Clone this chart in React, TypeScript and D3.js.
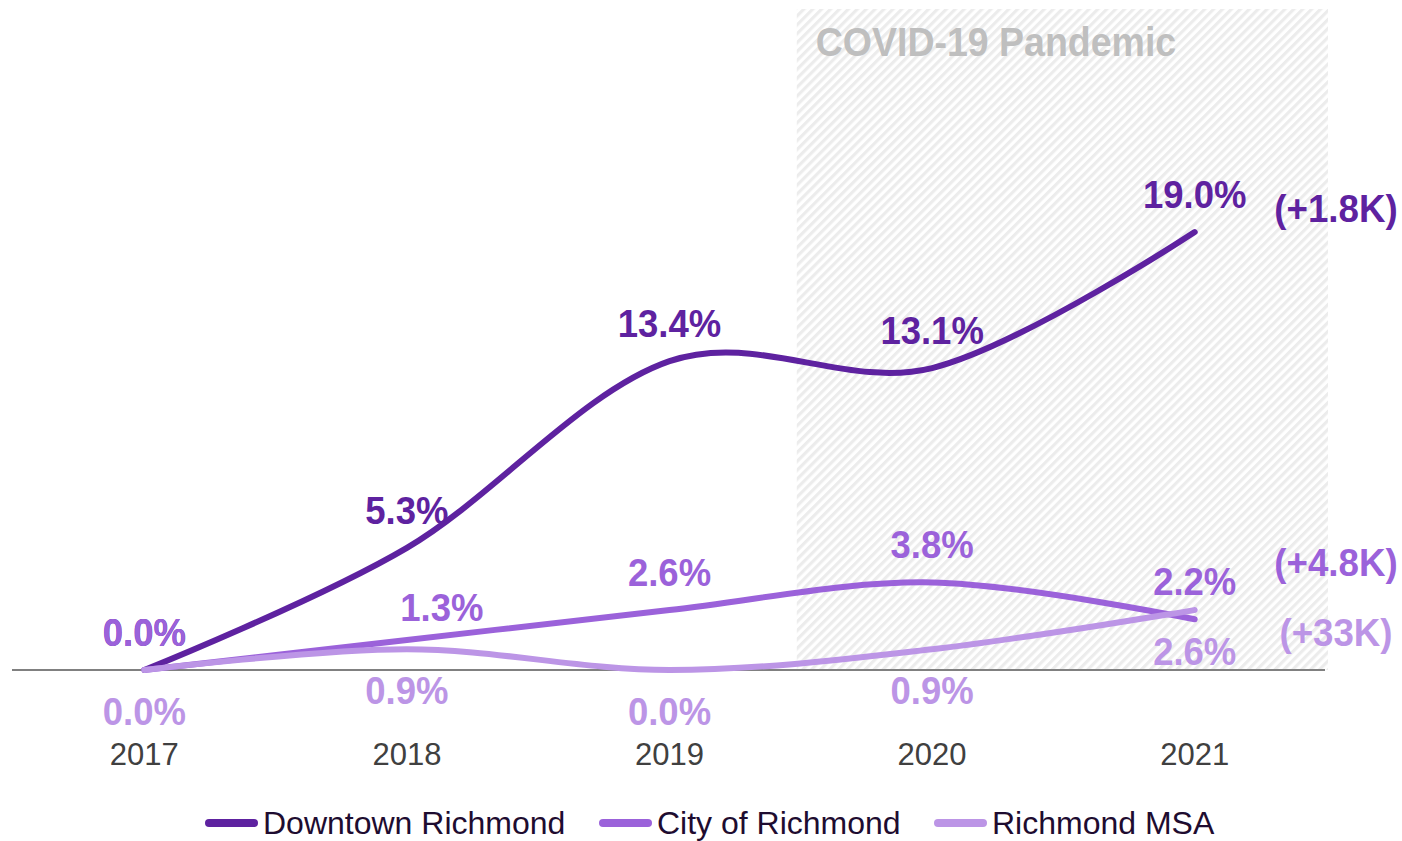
import React from "react";
import * as d3 from "d3";

const years = ["2017", "2018", "2019", "2020", "2021"];
const downtown = [0.0, 5.3, 13.4, 13.1, 19.0];
const city = [0.0, 1.3, 2.6, 3.8, 2.2];
const msa = [0.0, 0.9, 0.0, 0.9, 2.6];
const seriesNames = ["Downtown Richmond", "City of Richmond", "Richmond MSA"];
const seriesColors = ["#5e22a0", "#9b62da", "#bc95e6"];
const changeLabels = ["(+1.8K)", "(+4.8K)", "(+33K)"];
const labelSides = ["above", "above", "below"];
const pandemicLabel = "COVID-19 Pandemic";
const pandemicStart = "2020";

const W = 1402;
const H = 841;
const FONT = "'Liberation Sans', Arial, Helvetica, sans-serif";
const SY = 1.08;

function BoldLabel(props: {
  x: number;
  y: number;
  size: number;
  fill: string;
  anchor?: string;
  children: React.ReactNode;
}) {
  const { x, y, size, fill, anchor, children } = props;
  return (
    <text
      transform={`translate(${x},${y}) scale(1,${SY})`}
      textAnchor={anchor || "middle"}
      fontSize={size}
      fontWeight="bold"
      fill={fill}
    >
      {children}
    </text>
  );
}

export default function App() {
  const x = d3.scaleBand<string>().domain(years).range([13, 1326]).padding(0);
  const bw = x.bandwidth();
  const cx = (yr: string) => (x(yr) as number) + bw / 2;
  const y = d3.scaleLinear().domain([0, 20]).range([670, 670 - 20 * 23.05]);

  const series = [downtown, city, msa];
  const line = d3
    .line<number>()
    .x((_, i) => cx(years[i]))
    .y((d) => y(d))
    .curve(d3.curveCatmullRom.alpha(0));

  const hatchX0 = (x(pandemicStart) as number) - 4;
  const hatchX1 = 1328;
  const hatchY0 = 9;
  const axisY = y(0);

  const fmt = (v: number) => v.toFixed(1) + "%";

  const nudge = (si: number, i: number) =>
    si === 1 && i === 1 ? { dx: 35, dy: 5 } : { dx: 0, dy: 0 };

  const legendItems = [
    { x0: 205, x1: 258, tx: 263 },
    { x0: 599, x1: 652, tx: 657 },
    { x0: 934, x1: 987, tx: 992 },
  ];

  return (
    <svg
      width={W}
      height={H}
      style={{ position: "absolute", left: 0, top: 0, background: "#fff" }}
      fontFamily={FONT}
    >
      <defs>
        <pattern
          id="hatch"
          patternUnits="userSpaceOnUse"
          width={6.3}
          height={10}
          patternTransform="rotate(45)"
        >
          <rect x={0} y={0} width={6.3} height={10} fill="#ffffff" />
          <rect x={0} y={0} width={3.1} height={10} fill="#ececec" />
        </pattern>
      </defs>

      <rect
        x={hatchX0}
        y={hatchY0}
        width={hatchX1 - hatchX0}
        height={axisY - hatchY0}
        fill="url(#hatch)"
      />
      <BoldLabel x={hatchX0 + 19} y={56} size={37.5} fill="#bfbfbf" anchor="start">
        {pandemicLabel}
      </BoldLabel>

      <line
        x1={12}
        x2={1325}
        y1={axisY}
        y2={axisY}
        stroke="#808080"
        strokeWidth={2}
      />

      {series.map((vals, si) => (
        <path
          key={"l" + si}
          d={line(vals) as string}
          fill="none"
          stroke={seriesColors[si]}
          strokeWidth={6}
          strokeLinecap="round"
        />
      ))}

      {series.map((vals, si) =>
        vals.map((v, i) => {
          const n = nudge(si, i);
          const base = labelSides[si] === "above" ? y(v) - 24 : y(v) + 55;
          return (
            <BoldLabel
              key={"t" + si + "-" + i}
              x={cx(years[i]) + n.dx}
              y={base + n.dy}
              size={36.5}
              fill={seriesColors[si]}
            >
              {fmt(v)}
            </BoldLabel>
          );
        })
      )}

      {changeLabels.map((t, si) => {
        const ys = [222, 576, 646];
        return (
          <BoldLabel key={"c" + si} x={1336} y={ys[si]} size={36.7} fill={seriesColors[si]}>
            {t}
          </BoldLabel>
        );
      })}

      {years.map((yr) => (
        <text
          key={"x" + yr}
          x={cx(yr)}
          y={765}
          textAnchor="middle"
          fontSize={31}
          fill="#404040"
        >
          {yr}
        </text>
      ))}

      {seriesNames.map((name, si) => (
        <g key={"lg" + si}>
          <line
            x1={legendItems[si].x0 + 4}
            x2={legendItems[si].x1 - 4}
            y1={823}
            y2={823}
            stroke={seriesColors[si]}
            strokeWidth={8}
            strokeLinecap="round"
          />
          <text x={legendItems[si].tx} y={834} fontSize={32} fill="#1e0c30">
            {name}
          </text>
        </g>
      ))}
    </svg>
  );
}
